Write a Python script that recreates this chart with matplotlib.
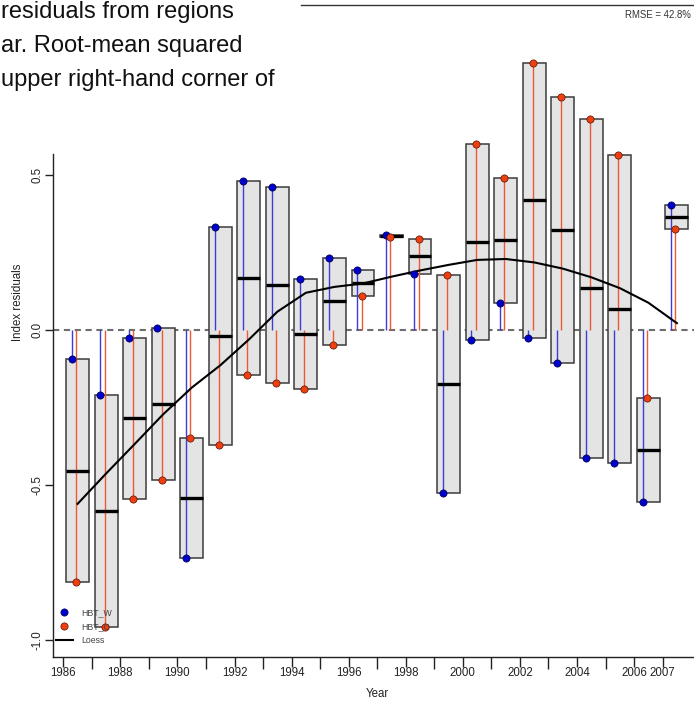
import numpy as np
import matplotlib
matplotlib.use("Agg")
import matplotlib.pyplot as plt
from matplotlib.lines import Line2D

plt.rcParams['font.family'] = ['Liberation Sans', 'DejaVu Sans']

# ---- data ----
years = list(range(1986, 2008))
hbt_w = [-0.095, -0.211, -0.026, 0.006, -0.737, 0.331, 0.480, 0.462, 0.165, 0.231, 0.195,
         0.306, 0.181, -0.525, -0.033, 0.088, -0.025, -0.108, -0.412, -0.430, -0.556, 0.403]
hbt_c = [-0.814, -0.957, -0.545, -0.485, -0.348, -0.372, -0.145, -0.170, -0.190, -0.047, 0.111,
         0.301, 0.294, 0.177, 0.599, 0.491, 0.862, 0.751, 0.680, 0.565, -0.218, 0.325]
loess = [-0.561, -0.463, -0.368, -0.272, -0.186, -0.114, -0.031, 0.059, 0.120, 0.139, 0.150,
         0.172, 0.192, 0.210, 0.226, 0.229, 0.218, 0.198, 0.170, 0.135, 0.088, 0.022]
major_labels = [1986, 1988, 1990, 1992, 1994, 1996, 1998, 2000, 2002, 2004, 2006, 2007]
minor_ticks = [1987, 1989, 1991, 1993, 1995, 1997, 1999, 2001, 2003, 2005]
y_ticks = [-1.0, -0.5, 0.0, 0.5]
caption = ["residuals from regions", "ar. Root-mean squared", "upper right-hand corner of"]
rmse_text = "RMSE = 42.8%"

W, H = 694, 701
fig = plt.figure(figsize=(W / 100, H / 100), dpi=100)

ax_l, ax_r, ax_b, ax_t = 53, 694, 656.7, 20
ax = fig.add_axes([ax_l / W, 1 - ax_b / H, (ax_r - ax_l) / W, (ax_b - ax_t) / H])
ax.set_facecolor('none')
ax.set_xlim(1985.639, 2008.099)
ax.set_ylim(-1.054, 1.0)

yr = np.array(years, dtype=float)
w = np.array(hbt_w)
c = np.array(hbt_c)
lo = np.minimum(w, c)
hi = np.maximum(w, c)
mean = (w + c) / 2

# zero reference line
ax.axhline(0, color='#6e6e6e', lw=1.5, ls=(0, (3, 2.2)), zorder=1)

# boxes
ax.bar(yr + 0.5, hi - lo, bottom=lo, width=0.8, facecolor='#e4e4e4',
       edgecolor='#3c3c3c', linewidth=1.1, zorder=2, clip_on=False)

# stems
ax.vlines(yr + 0.3, 0, w, color='#3c3cd6', lw=1.0, zorder=3, clip_on=False)
ax.vlines(yr + 0.45, 0, c, color='#ea5a34', lw=1.0, zorder=3, clip_on=False)

# mean bars
ax.hlines(mean, yr + 0.1, yr + 0.9, color='black', lw=2.4, zorder=4, clip_on=False)

# points
ax.plot(yr + 0.3, w, 'o', ms=5.2, mfc='#0000cc', mec='#00004a', mew=0.5, zorder=6, clip_on=False)
ax.plot(yr + 0.45, c, 'o', ms=5.2, mfc='#ee3f10', mec='#5a1000', mew=0.5, zorder=6, clip_on=False)

# loess
ax.plot(yr + 0.5, loess, color='black', lw=1.5, zorder=5, clip_on=False)

# axes styling
for s in ['top', 'right']:
    ax.spines[s].set_visible(False)
ax.spines['left'].set_bounds(-1.054, 0.568)
ax.spines['left'].set_linewidth(1.0)
ax.spines['bottom'].set_linewidth(1.0)
ax.spines['left'].set_color('#222222')
ax.spines['bottom'].set_color('#222222')

ax.set_xticks(major_labels)
ax.set_xticklabels([str(v) for v in major_labels])
ax.set_xticks(minor_ticks, minor=True)
ax.tick_params(axis='x', which='major', length=7, width=1.0, pad=0.4, labelsize=8.3,
               color='#222222', labelcolor='#222222')
ax.tick_params(axis='x', which='minor', length=8.9, width=1.0, color='#222222')
ax.set_yticks(y_ticks)
ax.set_yticklabels([f"{v:.1f}" for v in y_ticks])
ax.tick_params(axis='y', length=5.8, width=1.0, pad=1.2, labelsize=8.3,
               color='#222222', labelcolor='#222222')
for lab in ax.get_yticklabels():
    lab.set_rotation(90)
    lab.set_va('center')

# axis titles
fig.text(18 / W, 1 - 302 / H, "Index residuals", rotation=90, ha='center', va='center',
         fontsize=8.3, color='#222222')
fig.text(377 / W, 1 - 694 / H, "Year", ha='center', va='center', fontsize=8.3, color='#222222')

# legend
handles = [Line2D([], [], ls='none', marker='o', ms=5.2, mfc='#0000cc', mec='#00004a', mew=0.5),
           Line2D([], [], ls='none', marker='o', ms=5.2, mfc='#ee3f10', mec='#5a1000', mew=0.5),
           Line2D([], [], color='black', lw=1.5)]
leg = fig.legend(handles, ['HBT_W', 'HBT_C', 'Loess'], loc='upper left',
                 bbox_to_anchor=(56 / W, 1 - 608 / H), frameon=False, fontsize=6.3,
                 handlelength=1.9, handletextpad=0.95, labelspacing=0.55,
                 borderpad=0, borderaxespad=0, labelcolor='#444444')

# caption text and decorations (document context)
cap_base = [18, 52, 86]
for txt, yb in zip(caption, cap_base):
    fig.text(1 / W, 1 - yb / H, txt, ha='left', va='baseline', fontsize=17, color='#111111')
fig.add_artist(Line2D([301 / W, 1.0], [1 - 5 / H, 1 - 5 / H], color='#333333', lw=1.0))
fig.text(691 / W, 1 - 15 / H, rmse_text, ha='right', va='center', fontsize=6.9, color='#333333')

fig.savefig('out.png', dpi=100)
